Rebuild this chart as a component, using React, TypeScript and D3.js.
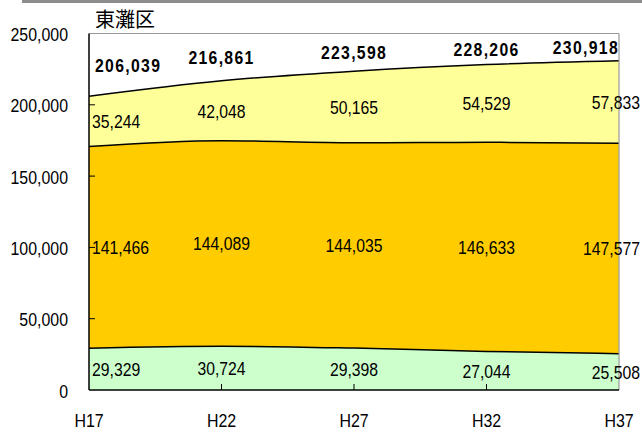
import React from 'react';
import * as d3 from 'd3';

const years = ['H17', 'H22', 'H27', 'H32', 'H37'];
const young = [29329, 30724, 29398, 27044, 25508];
const working = [141466, 144089, 144035, 146633, 147577];
const elderly = [35244, 42048, 50165, 54529, 57833];
const totals = [206039, 216861, 223598, 228206, 230918];
const yTicks = [0, 50000, 100000, 150000, 200000, 250000];
const title = '東灘区';

const W = 642;
const H = 442;
const M = { left: 89, right: 619, top: 33.5, bottom: 390 };
const FONT = '"Liberation Sans", Arial, sans-serif';

type NProps = {
  x: number;
  y: number;
  anchor?: string;
  bold?: boolean;
  sx?: number;
  size?: number;
  ls?: number;
  dy?: string;
  children: React.ReactNode;
};

function NText({ x, y, anchor = 'start', bold = false, sx = 0.83, size = 19, ls = 0, dy = '0.36em', children }: NProps) {
  return (
    <g transform={`translate(${x},${y}) scale(${sx},1)`}>
      <text
        x={0}
        y={0}
        dy={dy}
        textAnchor={anchor}
        fontFamily={FONT}
        fontSize={size}
        fontWeight={bold ? 'bold' : 'normal'}
        letterSpacing={ls}
        fill="#000"
      >
        {children}
      </text>
    </g>
  );
}

export default function App() {
  const x = d3.scalePoint<string>().domain(years).range([M.left, M.right]);
  const y = d3.scaleLinear().domain([0, 250000]).range([M.bottom, M.top]);
  const fmt = d3.format(',');

  const layers = [
    { vals: young, fill: '#CCFFCC' },
    { vals: working, fill: '#FFCC00' },
    { vals: elderly, fill: '#FFFF99' },
  ];
  const stacks: { lo: number[]; hi: number[]; vals: number[]; fill: string }[] = [];
  let base = years.map(() => 0);
  layers.forEach((l) => {
    const hi = base.map((b, i) => b + l.vals[i]);
    stacks.push({ lo: base, hi, vals: l.vals, fill: l.fill });
    base = hi;
  });

  const curve = d3.curveMonotoneX;
  const area = d3
    .area<number>()
    .x((_, i) => x(years[i]) as number)
    .curve(curve);
  const line = d3
    .line<number>()
    .x((_, i) => x(years[i]) as number)
    .y((d) => y(d))
    .curve(curve);

  const labelX = (i: number, bold: boolean) => {
    const px = x(years[i]) as number;
    if (i === 0) return { x: px + (bold ? 6 : 3), anchor: 'start' };
    if (i === years.length - 1) return { x: bold ? px : W - 2, anchor: 'end' };
    return { x: px, anchor: 'middle' };
  };

  return (
    <svg
      width={W}
      height={H}
      style={{ position: 'absolute', left: 0, top: 0, display: 'block', background: '#fff' }}
    >
      <rect x={22} y={0} width={W - 22} height={3} fill="#8c8c8c" />
      <text x={95} y={27} fontFamily='"Noto Sans CJK JP", sans-serif' fontSize={20} fill="#000">
        {title}
      </text>

      {stacks.map((s, k) => (
        <path
          key={'a' + k}
          d={
            area
              .y0((_, i) => y(s.lo[i]))
              .y1((_, i) => y(s.hi[i]))(s.vals) as string
          }
          fill={s.fill}
        />
      ))}
      {stacks.map((s, k) => (
        <path key={'l' + k} d={line(s.hi) as string} fill="none" stroke="#000" strokeWidth={1.5} />
      ))}

      {/* frame */}
      <line x1={M.left} x2={M.right} y1={M.top} y2={M.top} stroke="#999" strokeWidth={1.2} />
      <line x1={M.right} x2={M.right} y1={M.top} y2={M.bottom} stroke="#999" strokeWidth={1.2} />
      <line x1={M.left} x2={M.left} y1={M.top} y2={M.bottom} stroke="#000" strokeWidth={1.5} />
      <line x1={M.left} x2={M.right} y1={M.bottom} y2={M.bottom} stroke="#000" strokeWidth={1.5} />

      {yTicks.map((t) => (
        <g key={'y' + t}>
          {t > 0 && t < 250000 && (
            <line x1={M.left} x2={M.left + 6} y1={y(t)} y2={y(t)} stroke="#000" strokeWidth={1} />
          )}
          <NText x={68} y={y(t) + 1} anchor="end" sx={0.86} size={18.5}>
            {fmt(t)}
          </NText>
        </g>
      ))}
      {years.map((yr, i) => (
        <g key={'x' + yr}>
          {i > 0 && i < years.length - 1 && (
            <line
              x1={x(yr) as number}
              x2={x(yr) as number}
              y1={M.bottom}
              y2={M.bottom - 6}
              stroke="#000"
              strokeWidth={1}
            />
          )}
          <NText x={x(yr) as number} y={420} anchor="middle" sx={0.84}>
            {yr}
          </NText>
        </g>
      ))}

      {stacks.map((s, k) =>
        s.vals.map((v, i) => {
          const p = labelX(i, false);
          return (
            <NText key={'t' + k + i} x={p.x} y={(y(s.lo[i]) + y(s.hi[i])) / 2} anchor={p.anchor}>
              {fmt(v)}
            </NText>
          );
        })
      )}
      {totals.map((v, i) => {
        const p = labelX(i, true);
        return (
          <NText
            key={'tot' + i}
            x={p.x}
            y={(y(v) + y(250000)) / 2}
            anchor={p.anchor}
            bold
            ls={1.6}
          >
            {fmt(v)}
          </NText>
        );
      })}
    </svg>
  );
}
